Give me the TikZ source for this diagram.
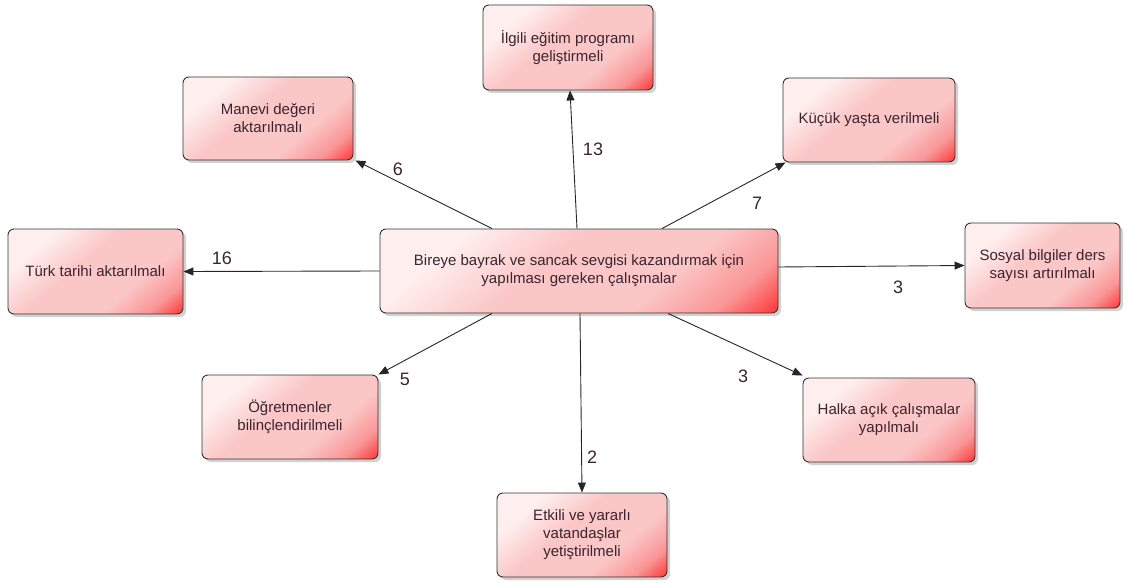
\documentclass[tikz,border=0pt]{standalone}
\usepackage{fontspec}
\setmainfont{Liberation Sans}
\usetikzlibrary{arrows.meta,shadows}

\definecolor{boxtext}{RGB}{58,36,48}
\definecolor{boxred}{RGB}{255,25,25}
\definecolor{boxrose}{RGB}{250,150,150}
\definecolor{boxpink}{RGB}{251,198,198}
\definecolor{boxlight}{RGB}{255,238,238}

\pgfdeclareverticalshading{redfade}{100bp}{
  color(0bp)=(boxred); color(12bp)=(boxred); color(24bp)=(boxrose);
  color(36bp)=(boxpink); color(56bp)=(boxpink); color(72bp)=(boxlight);
  color(100bp)=(boxlight)}

\tikzset{
  idea/.style={
    draw=black!80, line width=0.9pt, rounded corners=6pt,
    shading=redfade, shading angle=40,
    drop shadow={shadow xshift=3pt, shadow yshift=-3pt, opacity=0.18, fill=black},
    text=boxtext, align=center, font=\fontsize{15}{18}\selectfont,
    inner sep=4pt
  },
  link/.style={draw=black!85, line width=0.9pt, -{Triangle[length=10pt,width=8pt]}},
  count/.style={text=boxtext, font=\fontsize{18}{20}\selectfont}
}

\begin{document}
\begin{tikzpicture}[x=1pt, y=-1pt]
      \useasboundingbox (0,0) rectangle (1130,583);

      \node[idea, minimum width=398pt, minimum height=84pt] (hub) at (579, 271)
      {Bireye bayrak ve sancak sevgisi kazandırmak için\\yapılması gereken çalışmalar};

      \node[idea, minimum width=170pt, minimum height=85pt] (ilgili) at (568, 47.5)
      {İlgili eğitim programı\\geliştirmeli};
      \node[idea, minimum width=170pt, minimum height=83pt] (manevi) at (268, 118.5)
      {Manevi değeri\\aktarılmalı};
      \node[idea, minimum width=172pt, minimum height=84pt] (kucuk) at (869, 120)
      {Küçük yaşta verilmeli};
      \node[idea, minimum width=155pt, minimum height=85pt] (sosyal) at (1042.5, 265.5)
      {Sosyal bilgiler ders\\sayısı artırılmalı};
      \node[idea, minimum width=175pt, minimum height=85pt] (turk) at (95.5, 271.5)
      {Türk tarihi aktarılmalı};
      \node[idea, minimum width=176pt, minimum height=84pt] (ogretmen) at (290, 417)
      {Öğretmenler\\bilinçlendirilmeli};
      \node[idea, minimum width=172pt, minimum height=84pt] (halka) at (889, 420)
      {Halka açık çalışmalar\\yapılmalı};
      \node[idea, minimum width=170pt, minimum height=84pt] (etkili) at (582, 535)
      {Etkili ve yararlı\\vatandaşlar\\yetiştirilmeli};

      % arrows from the hub
      \draw[link] ([xshift=-2pt]hub.north) -- ([xshift=2pt]ilgili.south);
      \draw[link] ([xshift=-87pt]hub.north) -- ([xshift=2pt]manevi.south east);
      \draw[link] ([xshift=83pt]hub.north) -- ([xshift=3pt]kucuk.south west);
      \draw[link] (hub.west) -- (turk.east);
      \draw[link] ([yshift=4pt]hub.east) -- (sosyal.west);
      \draw[link] ([xshift=-87pt]hub.south) -- (ogretmen.north east);
      \draw[link] ([xshift=1pt]hub.south) -- (etkili.north);
      \draw[link] ([xshift=89pt]hub.south) -- ([yshift=2pt]halka.north west);

      % counts
      \node[count] (n13) at (593, 149) {13};
      \node[count] (n6) at (398, 169) {6};
      \node[count] (n7) at (757, 203) {7};
      \node[count] (n16) at (222, 258) {16};
      \node[count] (n3a) at (898, 287) {3};
      \node[count] (n5) at (405, 379) {5};
      \node[count] (n3b) at (743, 376) {3};
      \node[count] (n2) at (592, 457) {2};
    \end{tikzpicture}
\end{document}
